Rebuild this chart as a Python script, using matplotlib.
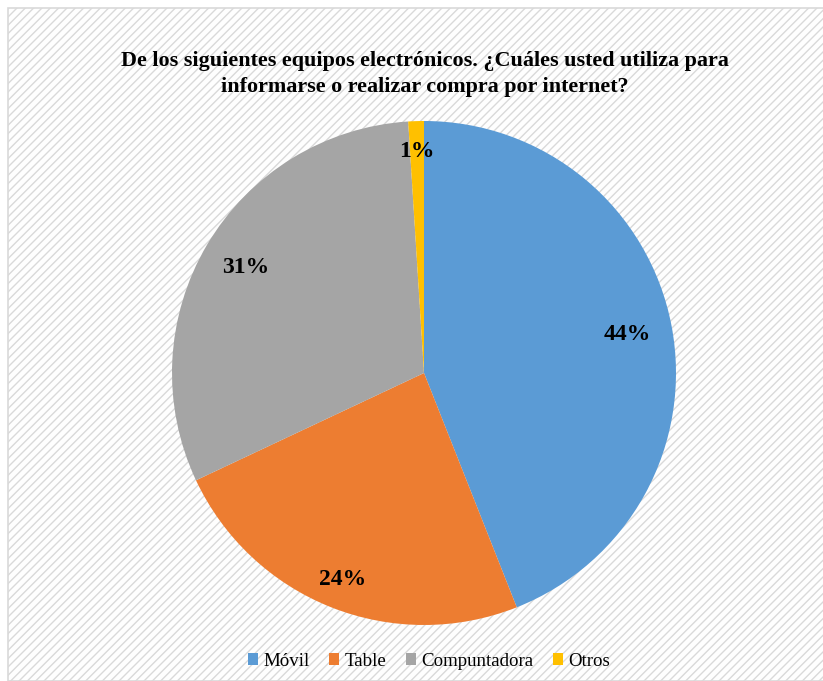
import matplotlib.pyplot as plt
from matplotlib.patches import Rectangle

# 数据
categorias = ['Móvil', 'Table', 'Compuntadora', 'Otros']
porcentajes = [44, 24, 31, 1]
colores = ['#5B9BD5', '#ED7D31', '#A5A5A5', '#FFC000']
titulo = ('De los siguientes equipos electrónicos. ¿Cuáles usted utiliza para\n'
          'informarse o realizar compra por internet?')

plt.rcParams['font.family'] = ['Liberation Serif', 'DejaVu Serif']
plt.rcParams['hatch.color'] = '#f7f7f7'
plt.rcParams['hatch.linewidth'] = 1.0

W, H = 823, 681
fig = plt.figure(figsize=(W / 100, H / 100), dpi=100)
fig.patch.set_facecolor('white')

# marco y fondo rayado
fondo = Rectangle((8 / W, 0), 1, 1 - 8 / H, transform=fig.transFigure,
                  facecolor='#fefefe', edgecolor='#d9d9d9', linewidth=1.2,
                  hatch='////', zorder=-10)
fig.patches.append(fondo)

# pastel
cx, cy, r = 424, 373, 252
ax = fig.add_axes([(cx - r) / W, (H - cy - r) / H, 2 * r / W, 2 * r / H])
ax.patch.set_visible(False)
ax.set_zorder(5)
wedges, textos, autotextos = ax.pie(
    porcentajes, colors=colores, startangle=90, counterclock=False,
    autopct='%1.0f%%', pctdistance=0.84,
    wedgeprops=dict(linewidth=0),
    textprops=dict(fontsize=17, fontweight='bold', color='black'))
ax.set_xlim(-1, 1)
ax.set_ylim(-1, 1)
ax.set_aspect('equal')

# distancia de cada etiqueta al centro
distancias = [0.82, 0.88, 0.82, 0.88]
for t, d in zip(autotextos, distancias):
    x, y = t.get_position()
    n = (x ** 2 + y ** 2) ** 0.5
    t.set_position((x / n * d, y / n * d))

fig.text(0.516, 1 - 74 / H, titulo, ha='center', va='center',
         fontsize=15.9, fontweight='bold', linespacing=1.35)

fig.legend(wedges, categorias, loc='center', bbox_to_anchor=(0.521, 1 - 661 / H),
           ncol=4, frameon=False, fontsize=13.6, handlelength=0.55,
           handleheight=0.55, handletextpad=0.25, columnspacing=1.05)

fig.savefig('out.png', dpi=100)
